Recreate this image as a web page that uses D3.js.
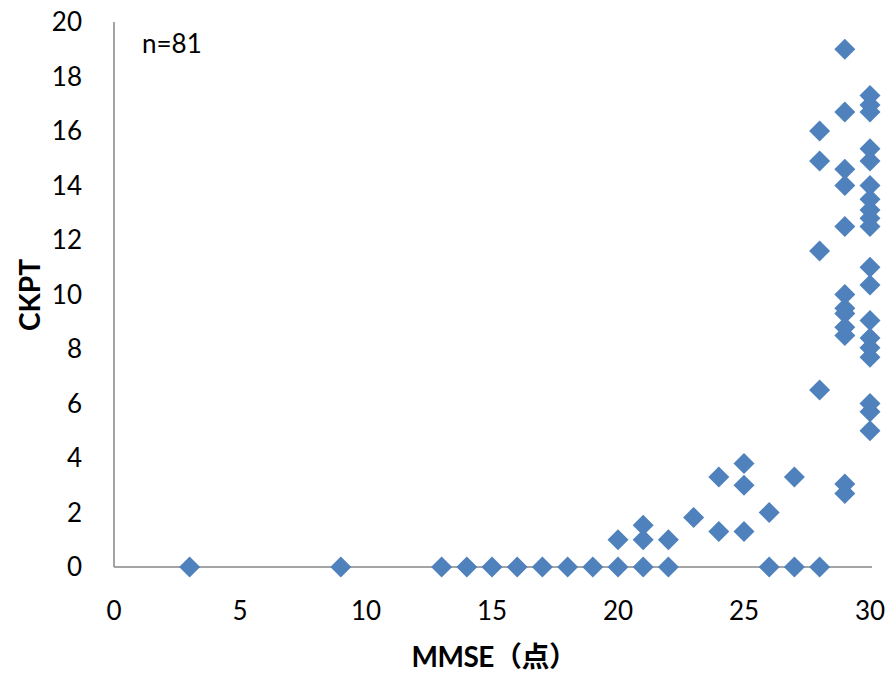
<!DOCTYPE html>
<html><head><meta charset="utf-8">
<script src="https://cdn.jsdelivr.net/npm/d3@7"></script>
<style>body{margin:0;background:#fff;} text{font-family:Lato,"Noto Sans CJK JP",sans-serif;}</style>
</head><body>
<svg id="c" width="890" height="673"></svg>
<script>
const mmse = [3,9,13,14,15,16,17,18,19,20,21,22,26,27,28,
  20,21,21,22,23,24,24,25,25,25,26,27,
  28,28,28,28,
  29,29,29,29,29,29,29,29,29,29,29,29,
  30,30,30,30,30,30,30,30,30,30,30,30,30,30,30,30,30,30,30];
const ckpt = [0,0,0,0,0,0,0,0,0,0,0,0,0,0,0,
  1.0,1.0,1.53,1.0,1.82,3.3,1.3,3.8,3.0,1.3,2.0,3.3,
  6.5,11.6,14.9,16.0,
  19.0,16.7,14.6,14.0,12.5,10.0,9.5,9.3,8.8,8.5,3.05,2.7,
  17.3,16.95,16.7,15.35,14.9,14.0,13.5,13.1,12.8,12.5,11.0,10.35,9.05,8.4,8.05,7.7,6.0,5.7,5.0];
const xTicks = [0,5,10,15,20,25,30];
const yTicks = [0,2,4,6,8,10,12,14,16,18,20];

const svg = d3.select("#c");
const x = d3.scaleLinear().domain([0,30]).range([114,870]);
const y = d3.scaleLinear().domain([0,20]).range([567,22]);

svg.append("line").attr("x1",x(0)).attr("x2",x(0)).attr("y1",y(0)).attr("y2",y(20)).attr("stroke","#868686").attr("stroke-width",1.5);
svg.append("line").attr("x1",x(0)).attr("x2",x(30)+2).attr("y1",y(0)).attr("y2",y(0)).attr("stroke","#868686").attr("stroke-width",1.5);

svg.selectAll(".yt").data(yTicks).enter().append("text")
  .attr("x",82).attr("y",d=>y(d)).attr("dy","0.35em").attr("text-anchor","end")
  .attr("font-size",26).attr("fill","#000").text(d=>d);
svg.selectAll(".xt").data(xTicks).enter().append("text")
  .attr("x",d=>x(d)).attr("y",611).attr("dy","0.35em").attr("text-anchor","middle")
  .attr("font-size",26).attr("fill","#000").text(d=>d);

const pts = mmse.map((m,i)=>({m, c: ckpt[i]}));
const r = 10.5;
svg.selectAll(".pt").data(pts).enter().append("path")
  .attr("d", d=>{const cx=x(d.m), cy=y(d.c); return `M${cx},${cy-r}L${cx+r},${cy}L${cx},${cy+r}L${cx-r},${cy}Z`;})
  .attr("fill","#4F81BD");

svg.append("text").attr("x",142).attr("y",53).attr("font-size",26).text("n=81");
svg.append("text").attr("x",494).attr("y",657).attr("dy","0.35em").attr("text-anchor","middle")
  .attr("font-size",28).attr("font-weight","bold").attr("letter-spacing",-0.5).text("MMSE（点）");
svg.append("text").attr("transform","translate(30,295) rotate(-90)").attr("dy","0.35em").attr("text-anchor","middle")
  .attr("font-size",28).attr("font-weight","bold").text("CKPT");
</script>
</body></html>
